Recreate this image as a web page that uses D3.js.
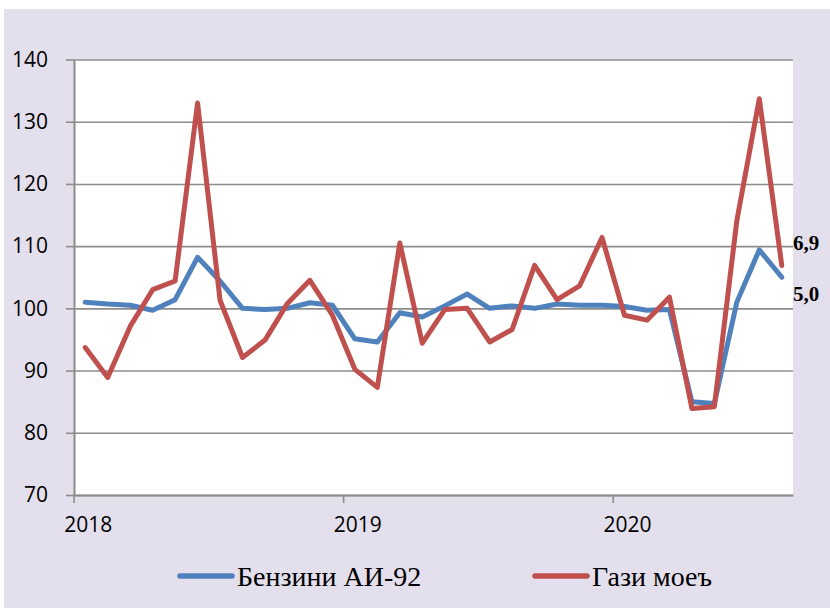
<!DOCTYPE html>
<meta charset="utf-8">
<script src="https://d3js.org/d3.v7.min.js"></script>
<style>
  body { margin: 0; background: #fff; }
  .tick text { fill: #000; }
</style>
<div id="chart"></div>
<script>

// months, Jan 2018 .. Aug 2020
var months = ["2018-01","2018-02","2018-03","2018-04","2018-05","2018-06","2018-07","2018-08","2018-09","2018-10","2018-11","2018-12",
              "2019-01","2019-02","2019-03","2019-04","2019-05","2019-06","2019-07","2019-08","2019-09","2019-10","2019-11","2019-12",
              "2020-01","2020-02","2020-03","2020-04","2020-05","2020-06","2020-07","2020-08"];

var benzin = [101.0,100.7,100.5,99.7,101.4,108.2,104.4,100.0,99.8,100.0,100.9,100.5,
              95.1,94.6,99.3,98.6,100.4,102.3,100.0,100.4,100.0,100.7,100.5,100.5,
              100.3,99.7,99.8,85.0,84.7,101.0,109.4,105.0];

var gazi = [93.7,88.9,97.1,103.0,104.4,133.0,101.3,92.1,94.9,100.8,104.5,98.9,
            90.2,87.3,110.5,94.4,99.8,100.0,94.6,96.6,106.9,101.4,103.6,111.4,
            98.9,98.1,101.8,83.9,84.2,114.1,133.7,106.9];

var yTicks = [70, 80, 90, 100, 110, 120, 130, 140];
var yearTicks = ["2018-01", "2019-01", "2020-01"];
var seriesNames = ["Бензини АИ-92", "Гази моеъ"];
var endLabels = ["6,9", "5,0"];

var W = 830, H = 614;
var plotL = 74, plotR = 793, plotT = 59.5, plotB = 495;
var serif = "'Liberation Serif', 'Times New Roman', 'DejaVu Serif', serif";
var sans = "'Open Sans', 'Liberation Sans', sans-serif";

var svg = d3.select("#chart").append("svg")
    .attr("width", W)
    .attr("height", H);

// background
svg.append("rect")
    .attr("x", 4).attr("y", 9)
    .attr("width", W - 4).attr("height", H - 15)
    .attr("fill", "#e4dfec");

svg.append("rect")
    .attr("x", plotL).attr("y", plotT)
    .attr("width", plotR - plotL).attr("height", plotB - plotT)
    .attr("fill", "#fff");

var x = d3.scaleBand()
    .domain(months)
    .range([plotL, plotR]);

var y = d3.scaleLinear()
    .domain([70, 140])
    .range([plotB, plotT]);

// gridlines
svg.append("g")
    .attr("transform", "translate(" + plotL + ",0)")
    .call(d3.axisRight(y).tickValues(yTicks).tickSize(plotR - plotL).tickFormat(""))
    .call(function(g) {
      g.select(".domain").remove();
      g.selectAll(".tick line").attr("stroke", "#8c8c8c").attr("stroke-width", 1.6);
    });

// y axis
svg.append("g")
    .attr("transform", "translate(" + plotL + ",0)")
    .call(d3.axisLeft(y).tickValues(yTicks).tickSize(8).tickSizeOuter(0).tickPadding(18))
    .call(function(g) {
      g.select(".domain").attr("stroke", "#8c8c8c").attr("stroke-width", 2);
      g.selectAll(".tick line").attr("stroke", "#8c8c8c").attr("stroke-width", 1.6);
      g.selectAll(".tick text")
        .attr("font-family", sans)
        .attr("font-size", 21);
    });

// x axis
svg.append("g")
    .attr("transform", "translate(0," + plotB + ")")
    .call(d3.axisBottom(x).tickValues(yearTicks).tickSize(8).tickSizeOuter(0).tickPadding(14)
      .tickFormat(function(d) { return d.slice(0, 4); }))
    .call(function(g) {
      g.select(".domain").attr("stroke", "#8c8c8c").attr("stroke-width", 2);
      g.selectAll(".tick line")
        .attr("stroke", "#8c8c8c").attr("stroke-width", 1.6)
        .attr("transform", "translate(" + (-x.bandwidth() / 2) + ",0)");
      g.selectAll(".tick text")
        .attr("dx", 3)
        .attr("font-family", sans)
        .attr("font-size", 21);
    });

var line = d3.line()
    .x(function(d, i) { return x(months[i]) + x.bandwidth() / 2; })
    .y(function(d) { return y(d); });

var colors = ["#4f81bd", "#c0504d"];

[benzin, gazi].forEach(function(s, k) {
  svg.append("path")
    .datum(s)
    .attr("fill", "none")
    .attr("stroke", colors[k])
    .attr("stroke-width", 5)
    .attr("stroke-linejoin", "round")
    .attr("stroke-linecap", "round")
    .attr("d", line);
});

// end labels
svg.selectAll(".endlabel")
    .data(endLabels)
    .enter().append("text")
    .attr("class", "endlabel")
    .attr("x", 793)
    .attr("y", function(d, i) { return [250, 301][i]; })
    .attr("font-family", serif)
    .attr("font-weight", "bold")
    .attr("font-size", 21)
    .text(function(d) { return d; });

// legend
var legend = svg.append("g");
var legX = [178, 533];
seriesNames.forEach(function(name, k) {
  legend.append("line")
    .attr("x1", legX[k] + 2).attr("x2", legX[k] + 54)
    .attr("y1", 576).attr("y2", 576)
    .attr("stroke", colors[k])
    .attr("stroke-width", 5.5)
    .attr("stroke-linecap", "round");
  legend.append("text")
    .attr("x", legX[k] + 59)
    .attr("y", 586)
    .attr("font-family", serif)
    .attr("font-size", 28)
    .text(name);
});

</script>
